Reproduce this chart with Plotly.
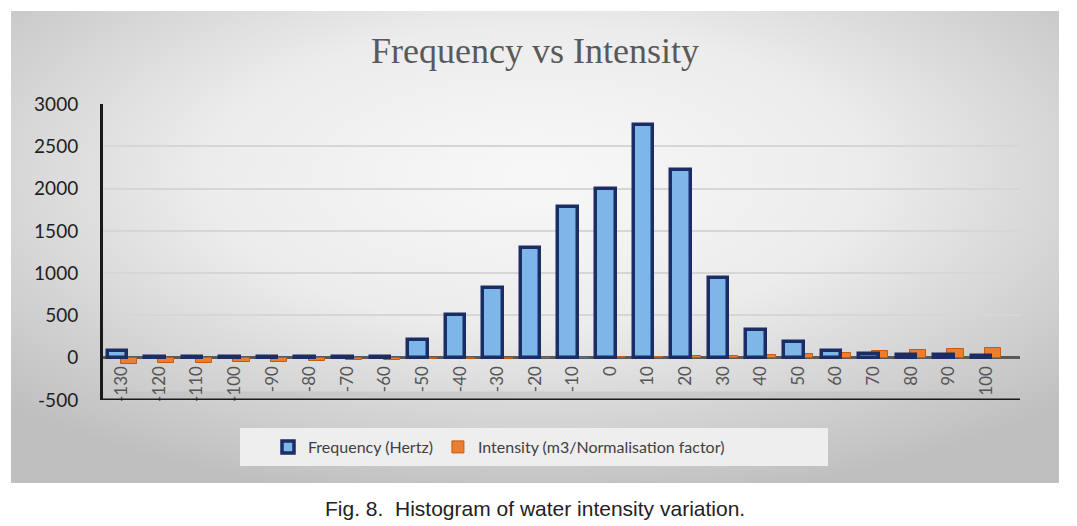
import base64
import plotly.graph_objects as go

categories = ["-130", "-120", "-110", "-100", "-90", "-80", "-70", "-60", "-50", "-40",
              "-30", "-20", "-10", "0", "10", "20", "30", "40", "50", "60",
              "70", "80", "90", "100"]
frequency = [80, 12, 12, 12, 12, 12, 12, 12, 215, 500, 830, 1300, 1780, 1990, 2750, 2220,
             940, 330, 180, 80, 40, 30, 30, 25]
intensity = [-70, -65, -60, -55, -45, -40, -30, -25, -20, -15, -10, -5, 0, 5, 10, 15,
             20, 30, 45, 60, 75, 90, 105, 120]
y_ticks = [-500, 0, 500, 1000, 1500, 2000, 2500, 3000]
y_tick_text = ["-500", "0", "500", "1000", "1500", "2000", "2500", "3000"]

OFF = 8  # page body margin
W, H = 1077 - OFF, 526 - OFF
L, R, T, B = 103 - OFF, 1020 - OFF, 104 - OFF, 400 - OFF  # plot area in figure px
PW, PH = R - L, B - T


def px_x(px):  # reference px -> paper
    return (px - OFF - L) / PW


def px_y(py):
    return (B - (py - OFF)) / PH


svg = '''<svg xmlns="http://www.w3.org/2000/svg" width="1048" height="472" viewBox="0 0 1048 472" preserveAspectRatio="none">
<defs><radialGradient id="g" cx="50%" cy="35%" r="70%" fx="50%" fy="35%">
<stop offset="0" stop-color="#f8f8f8"/><stop offset="0.45" stop-color="#ececec"/>
<stop offset="1" stop-color="#bfbfbf"/></radialGradient></defs>
<rect width="1048" height="472" fill="url(#g)"/></svg>'''
bg_src = "data:image/svg+xml;base64," + base64.b64encode(svg.encode()).decode()

fig = go.Figure()
fig.add_trace(go.Bar(
    x=categories, y=intensity, name="Intensity (m3/Normalisation factor)",
    marker=dict(color="#ed7d31", line=dict(color="#c55a11", width=1)),
    width=0.43, offset=-0.03, legendrank=2,
))
fig.add_trace(go.Bar(
    x=categories, y=frequency, name="Frequency (Hertz)",
    marker=dict(color="#7db6e8", line=dict(color="#1c2d66", width=3.5)),
    width=0.52, offset=-0.38, legendrank=1,
))

fig.update_layout(
    width=W, height=H,
    margin=dict(l=L, r=W - R, t=T, b=H - B, autoexpand=False),
    paper_bgcolor="white", plot_bgcolor="rgba(0,0,0,0)",
    barmode="overlay", bargap=0,
    title=dict(text="Frequency vs Intensity", x=px_x(535), xanchor="center", xref="paper",
               y=1 - (50 - OFF) / H, yanchor="middle",
               font=dict(family="Liberation Serif", size=36, color="#595959")),
    showlegend=True,
    legend=dict(orientation="h", x=px_x(499), xanchor="center", y=px_y(447), yanchor="middle",
                bgcolor="rgba(0,0,0,0)", font=dict(family="Lato", size=16, color="#404040"),
                itemwidth=30, traceorder="normal"),
    images=[dict(source=bg_src, xref="paper", yref="paper", x=px_x(11), y=px_y(11),
                 sizex=(1059 - 11) / PW, sizey=(483 - 11) / PH, sizing="stretch",
                 layer="below", xanchor="left", yanchor="top")],
    shapes=[
        dict(type="rect", xref="paper", yref="paper", x0=px_x(240), x1=px_x(828),
             y0=px_y(466), y1=px_y(428), fillcolor="#eeeeee", line=dict(width=0), layer="below"),
        dict(type="rect", xref="paper", yref="y", x0=px_x(118), x1=px_x(1010),
             y0=-500, y1=-400, fillcolor="rgba(195,195,195,0.7)", line=dict(width=0), layer="below"),
        dict(type="line", xref="paper", yref="y", x0=0, x1=1, y0=-500, y1=-500,
             line=dict(color="#1a1a1a", width=3)),
    ],
    annotations=[dict(text="Fig. 8.  Histogram of water intensity variation.",
                      xref="paper", yref="paper", x=px_x(535), y=px_y(508),
                      xanchor="center", yanchor="middle", showarrow=False,
                      font=dict(family="Liberation Sans", size=21, color="#222222"))],
)

fig.update_yaxes(range=[-500, 3000], tickvals=y_ticks, ticktext=y_tick_text,
                 tickfont=dict(family="Lato", size=19, color="#1f1f1f"),
                 showgrid=True, gridcolor="#d6d6d6", gridwidth=1.5,
                 zeroline=True, zerolinecolor="#595959", zerolinewidth=2.5,
                 showline=True, linecolor="#1a1a1a", linewidth=3,
                 ticks="", ticklabelstandoff=18)
fig.update_xaxes(type="category", range=[-0.5, 23.9], anchor="free", position=500 / 3500,
                 tickangle=-90, tickfont=dict(family="Lato", size=17, color="#555555"),
                 showline=False, showgrid=False, ticks="", ticklabelstandoff=4)

fig.write_html("out.html")
